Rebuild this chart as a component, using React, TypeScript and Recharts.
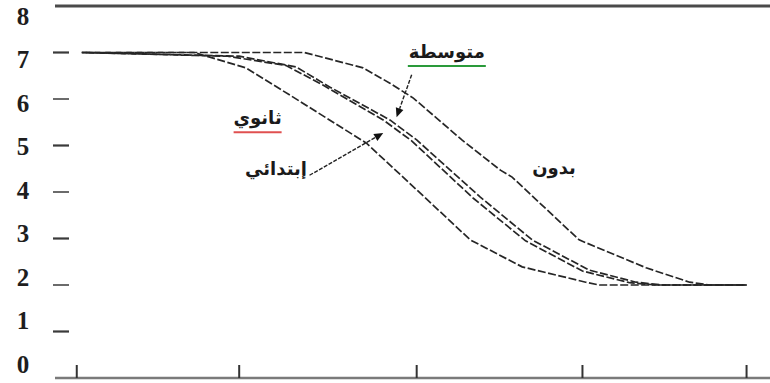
import React from "react";
import { LineChart, Line, XAxis, YAxis, ReferenceLine, ReferenceDot } from "recharts";

// curve values (x in tick units, y on 0-8 scale)
const thanawiX = [0.03, 0.7, 1.01, 1.27, 1.73, 2.05, 2.35, 2.66, 3.04, 3.12, 4.0];
const thanawiY = [7, 7, 6.67, 6.09, 5.05, 3.98, 2.97, 2.39, 2.06, 2.0, 2.0];

const mutawassitaX = [0.03, 0.97, 1.31, 1.51, 1.87, 2.03, 2.41, 2.72, 3.06, 3.34, 3.5, 4.0];
const mutawassitaY = [7, 6.92, 6.69, 6.26, 5.55, 5.12, 3.89, 2.97, 2.32, 2.06, 2.0, 2.0];

const ibtidaiX = [0.03, 0.9, 1.25, 1.47, 1.83, 2.0, 2.37, 2.68, 3.02, 3.3, 3.46, 4.0];
const ibtidaiY = [7, 6.92, 6.72, 6.3, 5.55, 5.1, 3.86, 2.95, 2.3, 2.05, 2.0, 2.0];

const bidunX = [0.03, 1.36, 1.71, 1.87, 2.01, 2.3, 2.53, 2.6, 3.0, 3.4, 3.66, 3.78, 4.0];
const bidunY = [7, 7, 6.67, 6.34, 6.02, 5.12, 4.47, 4.32, 2.97, 2.37, 2.06, 2.0, 2.0];

const xTicks = [0, 0.97, 2.03, 3.02, 4.0];
const yTicks = [0, 1, 2, 3, 4, 5, 6, 7, 8];

const toRows = (xs: number[], ys: number[]) => xs.map((x, i) => ({ x, y: ys[i] }));

const series = [
  { name: "ثانوي", data: toRows(thanawiX, thanawiY), offset: 0 },
  { name: "متوسطة", data: toRows(mutawassitaX, mutawassitaY), offset: 3 },
  { name: "ابتدائي", data: toRows(ibtidaiX, ibtidaiY), offset: 6 },
  { name: "بدون", data: toRows(bidunX, bidunY), offset: 8 },
];

const arabicFont = "'DejaVu Sans', sans-serif";
const lineColor = "#262626";

function YTick(props: any) {
  const { x, y, payload } = props;
  const v = payload.value as number;
  const dy = 10 - 3 * (8 - v);
  return (
    <g>
      <text
        x={x - 32}
        y={y + dy}
        textAnchor="middle"
        dominantBaseline="central"
        fontFamily="'Liberation Serif', serif"
        fontWeight="bold"
        fontSize={25}
        fill="#1e1e1e"
      >
        {v}
      </text>
      {v > 0 && v < 8 && (
        <line x1={x - 2} x2={x + 14} y1={y} y2={y} stroke="#3a3a3a" strokeWidth={v % 2 === 0 ? 1.5 : 2.2} />
      )}
    </g>
  );
}

function XTick(props: any) {
  const { x, y } = props;
  return <line x1={x} x2={x} y1={y} y2={y - 13} stroke="#333" strokeWidth={2} />;
}

function Arrow(props: any) {
  const { x1, y1, x2, y2 } = props;
  const a = Math.atan2(y2 - y1, x2 - x1);
  const len = 9;
  const w = 4;
  const bx = x2 - len * Math.cos(a);
  const by = y2 - len * Math.sin(a);
  const px = -Math.sin(a) * w;
  const py = Math.cos(a) * w;
  return (
    <g>
      <line x1={x1} y1={y1} x2={bx} y2={by} stroke="#222" strokeWidth={1.4} strokeDasharray="4 1.5" />
      <polygon points={`${x2},${y2} ${bx + px},${by + py} ${bx - px},${by - py}`} fill="#111" />
    </g>
  );
}

function makeLabel(text: string, underline?: string, ulWidth?: number) {
  return (props: any) => {
    const { cx, cy } = props;
    return (
      <g>
        <text
          x={cx}
          y={cy}
          textAnchor="middle"
          dominantBaseline="central"
          fontFamily={arabicFont}
          fontWeight="bold"
          fontSize={18}
          fill="#1a1a1a"
        >
          {text}
        </text>
        {underline && (
          <line
            x1={cx - (ulWidth || 40) / 2}
            x2={cx + (ulWidth || 40) / 2}
            y1={cy + 15}
            y2={cy + 15}
            stroke={underline}
            strokeWidth={2}
          />
        )}
      </g>
    );
  };
}

export default function App() {
  return (
    <div style={{ position: "absolute", left: 0, top: 0, width: 770, height: 383, background: "#fff" }}>
      <LineChart width={770} height={383} margin={{ top: 6, right: 0, bottom: 4, left: 0 }}>
        <XAxis
          type="number"
          dataKey="x"
          domain={[-0.13, 4.14]}
          allowDataOverflow
          ticks={xTicks}
          interval={0}
          tickSize={0}
          tickMargin={0}
          tickLine={false}
          tick={<XTick />}
          height={1}
          axisLine={{ stroke: "#7a7a7a", strokeWidth: 2.5 }}
        />
        <YAxis
          type="number"
          dataKey="y"
          domain={[0, 8]}
          ticks={yTicks}
          interval={0}
          width={55}
          tickSize={0}
          tickMargin={0}
          tickLine={false}
          axisLine={false}
          tick={<YTick />}
        />
        <ReferenceLine y={8} stroke="#4a4a4a" strokeWidth={3} />
        {series.map((s) => (
          <Line
            key={s.name}
            name={s.name}
            data={s.data}
            dataKey="y"
            type="linear"
            dot={false}
            stroke={lineColor}
            strokeWidth={1.7}
            strokeDasharray="8 2.5"
            strokeDashoffset={s.offset}
            isAnimationActive={false}
          />
        ))}
        <ReferenceLine segment={[{ x: 2.0, y: 6.52 }, { x: 1.91, y: 5.61 }]} shape={Arrow} />
        <ReferenceLine segment={[{ x: 1.39, y: 4.36 }, { x: 1.83, y: 5.27 }]} shape={Arrow} />
        <ReferenceDot x={1.08} y={5.61} r={0} shape={makeLabel("ثانوي", "#e05050", 48)} />
        <ReferenceDot x={2.21} y={7.03} r={0} shape={makeLabel("متوسطة", "#2a9a3a", 78)} />
        <ReferenceDot x={1.19} y={4.5} r={0} shape={makeLabel("إبتدائي")} />
        <ReferenceDot x={2.85} y={4.52} r={0} shape={makeLabel("بدون")} />
      </LineChart>
    </div>
  );
}
